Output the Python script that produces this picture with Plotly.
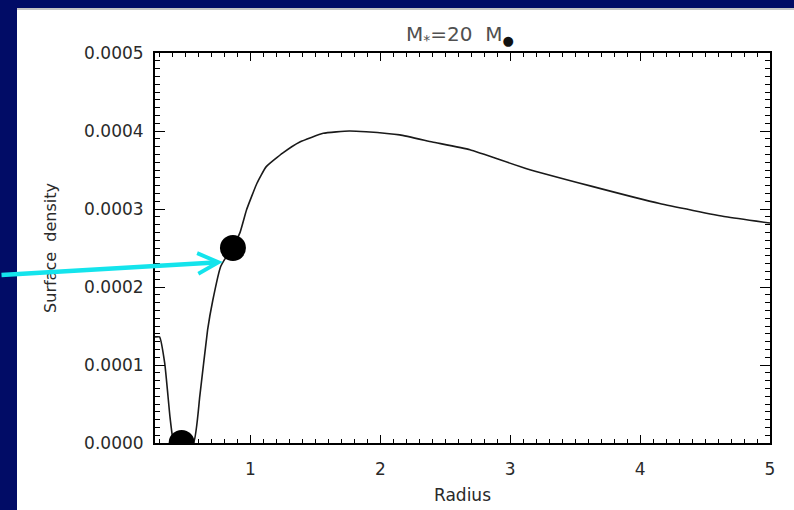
import plotly.graph_objects as go

# ---- data ----
radius = [0.265, 0.30, 0.34, 0.38, 0.40, 0.42, 0.56, 0.61, 0.67, 0.71, 0.77,
          0.80, 0.865, 0.92, 0.97, 1.05, 1.12, 1.25, 1.38, 1.56, 1.76, 1.89,
          2.15, 2.40, 2.69, 3.12, 3.63, 4.15, 4.66, 5.0]
density = [1.36e-4, 1.36e-4, 1.02e-4, 0.34e-4, 0.08e-4, 0.0, 0.0, 0.60e-4,
           1.45e-4, 1.83e-4, 2.26e-4, 2.35e-4, 2.52e-4, 2.70e-4, 2.99e-4,
           3.33e-4, 3.54e-4, 3.72e-4, 3.86e-4, 3.97e-4, 4.00e-4, 3.99e-4,
           3.95e-4, 3.86e-4, 3.76e-4, 3.52e-4, 3.29e-4, 3.07e-4, 2.90e-4, 2.82e-4]
dot_r = [0.865, 0.47]
dot_d = [2.50e-4, 0.0]
arrow_tip = (0.787, 2.32e-4)
xticks = [1, 2, 3, 4, 5]
yticks = [0.0, 0.0001, 0.0002, 0.0003, 0.0004, 0.0005]

W, H = 794, 510
L, R, T, B = 155, 24, 53, 67
pw, ph = W - L - R, H - T - B
NAVY = "rgb(1,12,102)"

def px(xp):
    return (xp - L) / pw

def py(yp):
    return (H - B - yp) / ph

fig = go.Figure()
fig.add_trace(go.Scatter(x=radius, y=density, mode="lines",
                         line=dict(color="#1a1a1a", width=1.6, shape="spline", smoothing=0.4),
                         showlegend=False, hoverinfo="skip"))
fig.add_trace(go.Scatter(x=dot_r, y=dot_d, mode="markers",
                         marker=dict(color="black", size=26),
                         showlegend=False, hoverinfo="skip"))

font = dict(family="DejaVu Sans", size=17, color="#2a2a2a")
axcommon = dict(showline=True, linecolor="black", linewidth=2, mirror="allticks",
                ticks="inside", tickcolor="black", tickwidth=1.3,
                showgrid=False, zeroline=False, tickfont=font)

fig.update_xaxes(range=[0.265, 5], tickvals=xticks, ticklen=8,
                 minor=dict(dtick=0.1, tick0=0, ticks="inside", ticklen=4,
                            tickcolor="black", tickwidth=1.2, showgrid=False),
                 ticklabelstandoff=10,
                 title=dict(text="Radius", font=dict(family="DejaVu Sans", size=17, color="#2a2a2a"),
                            standoff=11),
                 **axcommon)
fig.update_yaxes(range=[0, 0.0005], tickvals=yticks, tickformat=".4f", ticklen=10,
                 minor=dict(dtick=0.00001, tick0=0, ticks="inside", ticklen=5,
                            tickcolor="black", tickwidth=1.2, showgrid=False),
                 ticklabelstandoff=6,
                 title=dict(text="Surface  density", font=dict(family="DejaVu Sans", size=16, color="#2a2a2a"),
                            standoff=24),
                 **axcommon)

shapes = [
    dict(type="rect", xref="paper", yref="paper", x0=-0.3, x1=px(17), y0=-0.3, y1=1.3,
         fillcolor=NAVY, line=dict(width=0), layer="below"),
    dict(type="rect", xref="paper", yref="paper", x0=-0.3, x1=1.2, y0=py(8), y1=1.3,
         fillcolor=NAVY, line=dict(width=0), layer="below"),
    dict(type="rect", xref="paper", yref="paper", x0=px(17), x1=1.2, y0=py(10), y1=py(8),
         fillcolor="#c4c4c4", line=dict(width=0), layer="below"),
]

fig.add_annotation(x=arrow_tip[0], y=arrow_tip[1], ax=-224, ay=13,
                   axref="pixel", ayref="pixel", text="", showarrow=True,
                   arrowhead=5, arrowsize=0.9, arrowwidth=4.5, arrowcolor="#14e4ec",
                   standoff=0)

fig.update_layout(
    width=W, height=H, margin=dict(l=L, r=R, t=T, b=B, autoexpand=False),
    paper_bgcolor="white", plot_bgcolor="white",
    shapes=shapes,
    title=dict(text="M<sub>*</sub>=20  M<sub><span style='font-size:13px;fill:#111'>●</span></sub>",
               x=px(460), xref="paper",
               y=1 - 34 / H, yref="container", xanchor="center", yanchor="middle",
               font=dict(family="DejaVu Sans", size=20, color="#505050")),
)
fig.write_html("out.html")
